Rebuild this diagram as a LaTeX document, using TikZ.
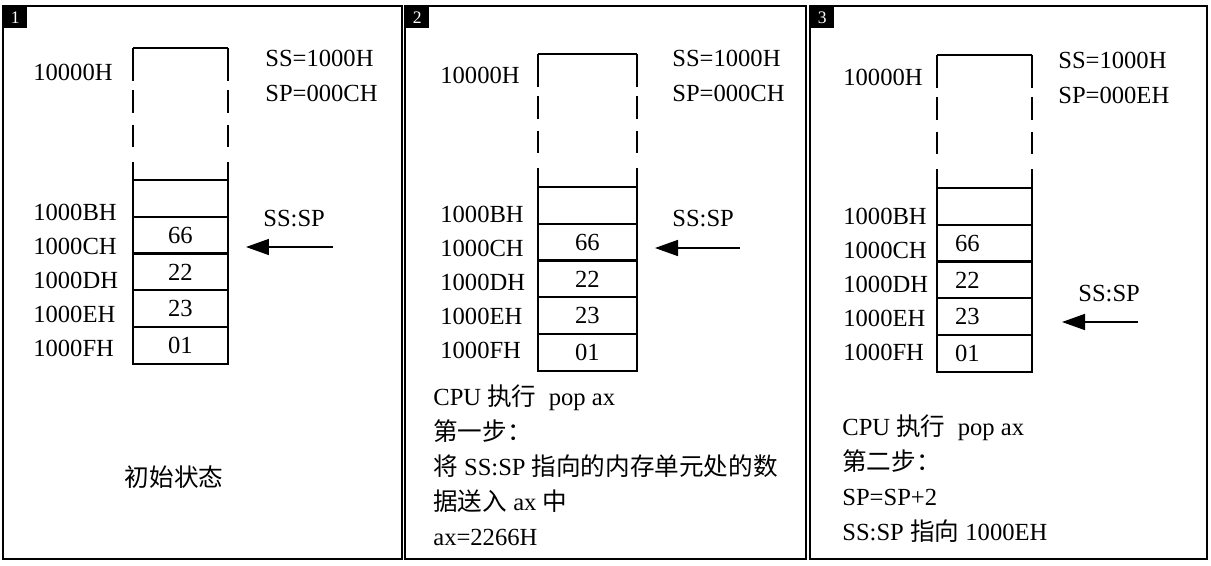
\documentclass[tikz,border=0pt]{standalone}
\usepackage{fontspec}
\setmainfont{Liberation Serif}
\newfontfamily\cjk{Noto Sans CJK SC}
\usetikzlibrary{arrows.meta, positioning}
\tikzset{
    panel/.style={draw, line width=1.2pt},
    tag/.style={rectangle, fill=black, text=white, minimum width=0.48cm, minimum height=0.44cm, inner sep=0pt, font=\fontsize{10}{12}\selectfont},
    cell/.style={rectangle, draw, line width=1.3pt, minimum width=1.9cm, minimum height=0.735cm, inner sep=0pt, outer sep=0pt, font=\fontsize{14}{16}\selectfont},
    leftcell/.style={cell, text width=1.18cm, inner xsep=0.36cm, align=left},
    txt/.style={inner sep=0pt, align=left, font=\fontsize{14}{19.8}\selectfont},
    addr/.style={inner sep=0pt, align=left, font=\fontsize{14}{19.3}\selectfont},
    edge/.style={line width=1.3pt},
    side/.style={line width=1.3pt, dash pattern=on 18.7pt off 5.1pt on 13pt off 6.8pt on 13pt off 8.5pt on 30pt},
    arrow/.style={-{Triangle[length=0.46cm, width=0.32cm]}, line width=0.9pt}
}
\begin{document}
\begin{tikzpicture}[x=0.02cm, y=-0.02cm]
    \useasboundingbox (0,0) rectangle (1211,565);

    % Panel 1: initial state
    \draw[panel] (3,6) rectangle (402,559);
    \node[tag, anchor=north west] (tag_one) at (3,6) {1};
    \node[cell, anchor=north west] (p1_b) at (133,180) {};
    \node[cell, below=0cm of p1_b.south, anchor=north] (p1_c) {66};
    \node[cell, below=0cm of p1_c.south, anchor=north] (p1_d) {22};
    \node[cell, below=0cm of p1_d.south, anchor=north] (p1_e) {23};
    \node[cell, below=0cm of p1_e.south, anchor=north] (p1_f) {01};
    \coordinate (p1_top) at (133,48);
    \draw[edge] (p1_top) -- (p1_top -| p1_b.east);
    \draw[side] (p1_top) -- (p1_b.north west);
    \draw[side] (p1_top -| p1_b.east) -- (p1_b.north east);
    \node[txt, anchor=base west] (p1_base) at (33,80) {10000H};
    \node[addr, anchor=base west] (p1_addr) at (33,356) {1000BH\\1000CH\\1000DH\\1000EH\\1000FH};
    \node[txt, anchor=base west] (p1_reg) at (265,101) {SS=1000H\\SP=000CH};
    \node[txt, anchor=base west] (p1_sssp) at (263,226) {SS:SP};
    \coordinate (p1_tail) at (333,247);
    \coordinate (p1_head) at (246,247);
    \draw[arrow] (p1_tail) -- (p1_head);
    \node[txt] (p1_note) at (174,477) {\cjk 初始状态};

    % Panel 2: pop ax, first step
    \draw[panel] (405,6) rectangle (806,559);
    \node[tag, anchor=north west] (tag_two) at (405,6) {2};
    \node[cell, minimum width=1.98cm, anchor=north west] (p2_b) at (538,187) {};
    \node[cell, minimum width=1.98cm, below=0cm of p2_b.south, anchor=north] (p2_c) {66};
    \node[cell, minimum width=1.98cm, below=0cm of p2_c.south, anchor=north] (p2_d) {22};
    \node[cell, minimum width=1.98cm, below=0cm of p2_d.south, anchor=north] (p2_e) {23};
    \node[cell, minimum width=1.98cm, below=0cm of p2_e.south, anchor=north] (p2_f) {01};
    \coordinate (p2_top) at (538,54);
    \draw[edge] (p2_top) -- (p2_top -| p2_b.east);
    \draw[side] (p2_top) -- (p2_b.north west);
    \draw[side] (p2_top -| p2_b.east) -- (p2_b.north east);
    \node[txt, anchor=base west] (p2_base) at (440,83) {10000H};
    \node[addr, anchor=base west] (p2_addr) at (440,358) {1000BH\\1000CH\\1000DH\\1000EH\\1000FH};
    \node[txt, anchor=base west] (p2_reg) at (672,101) {SS=1000H\\SP=000CH};
    \node[txt, anchor=base west] (p2_sssp) at (672,226) {SS:SP};
    \coordinate (p2_tail) at (740,248);
    \coordinate (p2_head) at (655,248);
    \draw[arrow] (p2_tail) -- (p2_head);
    \node[txt, anchor=base west] (p2_note) at (433,545) {CPU {\cjk 执行}~~pop ax\\{\cjk 第一步：}\\{\cjk 将} SS:SP {\cjk 指向的内存单元处的数}\\{\cjk 据送入} ax {\cjk 中}\\ax=2266H};

    % Panel 3: pop ax, second step
    \draw[panel] (810,6) rectangle (1207,559);
    \node[tag, anchor=north west] (tag_three) at (810,6) {3};
    \node[leftcell, anchor=north west] (p3_b) at (937,188) {};
    \node[leftcell, below=0cm of p3_b.south, anchor=north] (p3_c) {66};
    \node[leftcell, below=0cm of p3_c.south, anchor=north] (p3_d) {22};
    \node[leftcell, below=0cm of p3_d.south, anchor=north] (p3_e) {23};
    \node[leftcell, below=0cm of p3_e.south, anchor=north] (p3_f) {01};
    \coordinate (p3_top) at (937,55);
    \draw[edge] (p3_top) -- (p3_top -| p3_b.east);
    \draw[side] (p3_top) -- (p3_b.north west);
    \draw[side] (p3_top -| p3_b.east) -- (p3_b.north east);
    \node[txt, anchor=base west] (p3_base) at (843,85) {10000H};
    \node[addr, anchor=base west] (p3_addr) at (843,360) {1000BH\\1000CH\\1000DH\\1000EH\\1000FH};
    \node[txt, anchor=base west] (p3_reg) at (1058,103) {SS=1000H\\SP=000EH};
    \node[txt, anchor=base west] (p3_sssp) at (1078,301) {SS:SP};
    \coordinate (p3_tail) at (1138,322);
    \coordinate (p3_head) at (1062,322);
    \draw[arrow] (p3_tail) -- (p3_head);
    \node[txt, anchor=base west] (p3_note) at (842,540) {CPU {\cjk 执行}~~pop ax\\{\cjk 第二步：}\\SP=SP+2\\SS:SP {\cjk 指向} 1000EH};
\end{tikzpicture}
\end{document}
